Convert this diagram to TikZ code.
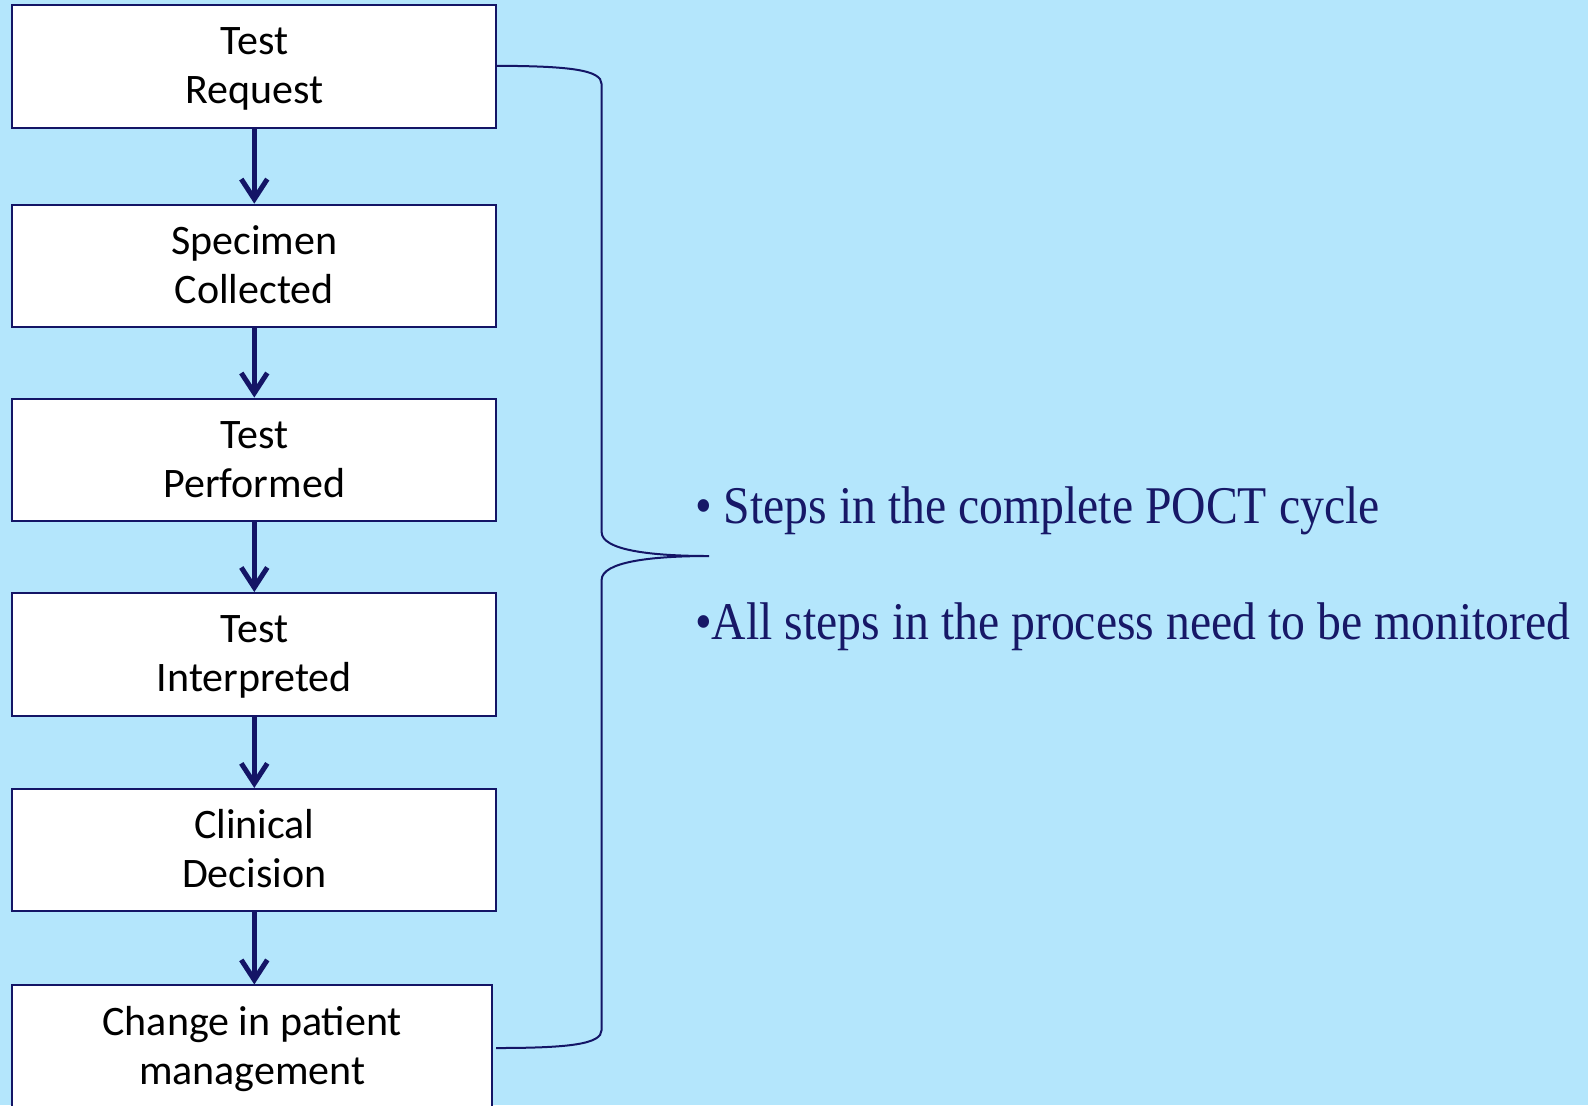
\documentclass[tikz,border=0pt]{standalone}
\usepackage{fontspec}
\setmainfont{Carlito}
\newfontfamily\bulletfont[FakeStretch=0.9]{Liberation Serif}
\usetikzlibrary{arrows.meta}
\definecolor{skyback}{HTML}{B4E6FC}
\definecolor{navy}{HTML}{141566}
\definecolor{navytext}{HTML}{171867}
% two centred lines with fixed ascent and descent
\newcommand{\boxlines}[2]{\rule{0pt}{17.5pt}#1\\#2\rule[-4.5pt]{0pt}{0pt}}
\tikzset{
  stepbox/.style={draw=navy, line width=1pt, fill=white, minimum width=242pt,
    minimum height=61.25pt, align=center, inner sep=0pt,
    font=\fontsize{21pt}{24.5pt}\selectfont},
  flow/.style={draw=navy, line width=2.5pt, -{Straight Barb[length=10pt,width=13pt]}},
  brace/.style={draw=navy, line width=1pt},
  bullet/.style={anchor=base west, inner sep=0pt, text=navytext,
    font=\bulletfont\fontsize{26.5pt}{30pt}\selectfont}
}
\begin{document}
\begin{tikzpicture}[x=0.5pt, y=-0.5pt]
  % page and background
  \fill[skyback] (0,0) rectangle (1588,1105);
  \useasboundingbox (0,0) rectangle (1588,1105);

  % process steps
  \node[stepbox] (req)  at (254.3,66.4)  {\boxlines{Test}{Request}};
  \node[stepbox] (spec) at (254.3,265.9) {\boxlines{Specimen}{Collected}};
  \node[stepbox] (perf) at (254.3,459.8) {\boxlines{Test}{Performed}};
  \node[stepbox] (intp) at (254.3,654.3) {\boxlines{Test}{Interpreted}};
  \node[stepbox] (dec)  at (254.3,850.2) {\boxlines{Clinical}{Decision}};
  \node[stepbox, minimum width=240pt] (mgmt) at (252.2,1046.7) {\boxlines{Change in patient}{management}};

  % arrows between steps
  \draw[flow] (req.south)  -- (spec.north);
  \draw[flow] (spec.south) -- (perf.north);
  \draw[flow] (perf.south) -- (intp.north);
  \draw[flow] (intp.south) -- (dec.north);
  \draw[flow] (dec.south)  -- (dec.south |- mgmt.north);

  % brace spanning the whole cycle
  \coordinate (btop) at (496,65.8);
  \coordinate (bbot) at (496,1048);
  \coordinate (btip) at (709,556);
  \draw[brace] (btop) .. controls (570,66) and (601.6,70) .. (601.6,84)
    -- (601.6,532) .. controls (601.6,550) and (650,556) .. (btip)
    .. controls (650,556) and (601.6,562) .. (601.6,580)
    -- (601.6,1030) .. controls (601.6,1044) and (570,1048) .. (bbot);

  % notes
  \node[bullet] (n1) at (694.8,523.6) {\textbullet\ Steps in the complete POCT cycle};
  \node[bullet] (n2) at (694.8,639) {\textbullet All steps in the process need to be monitored};
\end{tikzpicture}
\end{document}
